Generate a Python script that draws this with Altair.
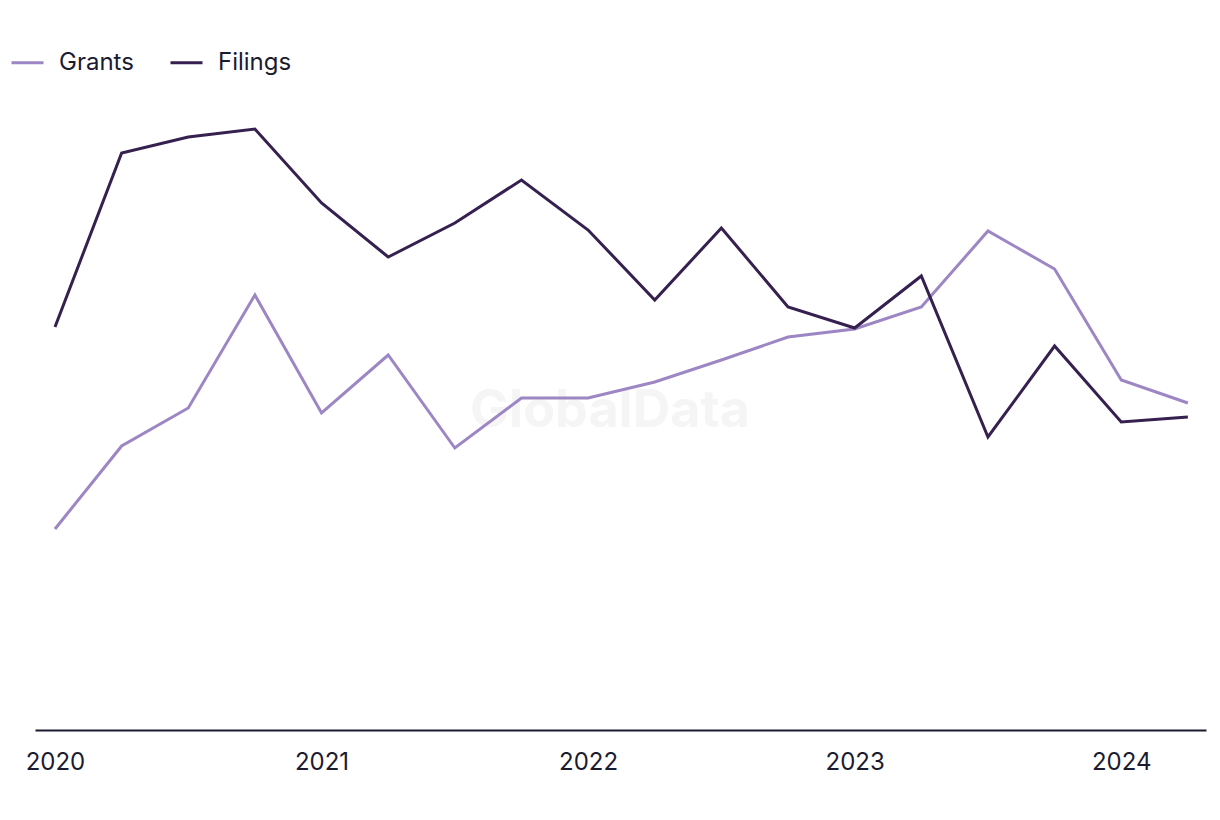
import altair as alt
import pandas as pd

quarters = ["2020-Q1", "2020-Q2", "2020-Q3", "2020-Q4",
            "2021-Q1", "2021-Q2", "2021-Q3", "2021-Q4",
            "2022-Q1", "2022-Q2", "2022-Q3", "2022-Q4",
            "2023-Q1", "2023-Q2", "2023-Q3", "2023-Q4",
            "2024-Q1", "2024-Q2"]
grants = [201, 284, 322, 435, 317, 375, 282, 332, 332, 348, 370, 393,
          401, 423, 499, 461, 350, 327]
filings = [403, 577, 593, 601, 527, 473, 507, 550, 500, 430, 502, 423,
           402, 454, 293, 384, 308, 313]
series = ["Grants", "Filings"]
colors = ["#9d86c4", "#35204f"]
year_ticks = [2020, 2021, 2022, 2023, 2024]


def qpos(q):
    y, qq = q.split("-Q")
    return int(y) + (int(qq) - 1) / 4


rows = []
for name, vals in zip(series, [grants, filings]):
    for q, v in zip(quarters, vals):
        rows.append({"quarter": q, "t": qpos(q), "value": v, "series": name})
df = pd.DataFrame(rows)

font = "Inter"
text_color = "#1b1b2f"

watermark = alt.Chart(pd.DataFrame({"label": ["GlobalData"]})).mark_text(
    font=font, fontSize=52, fontWeight="bold", color="#f5f5f5",
    align="center", baseline="middle"
).encode(
    x=alt.value(575), y=alt.value(311), text="label:N"
)

lines = alt.Chart(df).mark_line(strokeWidth=3, strokeJoin="miter").encode(
    x=alt.X("t:Q",
            scale=alt.Scale(domain=[2019.925, 2024.318], nice=False, zero=False),
            axis=alt.Axis(values=year_ticks, format="d", title=None,
                          grid=False, ticks=False, labelPadding=20,
                          labelFontSize=24, labelFont=font, labelColor=text_color,
                          domainColor=text_color, domainWidth=2,
                          labelFlush=False)),
    y=alt.Y("value:Q", scale=alt.Scale(domain=[0, 630], nice=False),
            axis=None),
    color=alt.Color("series:N",
                    scale=alt.Scale(domain=series, range=colors),
                    legend=alt.Legend(title=None, orient="none", direction="horizontal",
                                      legendX=-25, legendY=-55,
                                      symbolType="stroke", symbolSize=1024,
                                      symbolStrokeWidth=3,
                                      labelFontSize=24, labelFont=font,
                                      labelColor=text_color, labelOffset=14,
                                      columnPadding=30)),
    order=alt.Order("t:Q"),
)

chart = alt.layer(watermark, lines).properties(
    width=1171, height=630,
    autosize=alt.AutoSizeParams(type="none"),
    padding={"left": 27, "top": 92, "right": 6, "bottom": 60},
).configure_view(stroke=None)

chart.save("out.html", embed_options={"renderer": "svg", "actions": False})
